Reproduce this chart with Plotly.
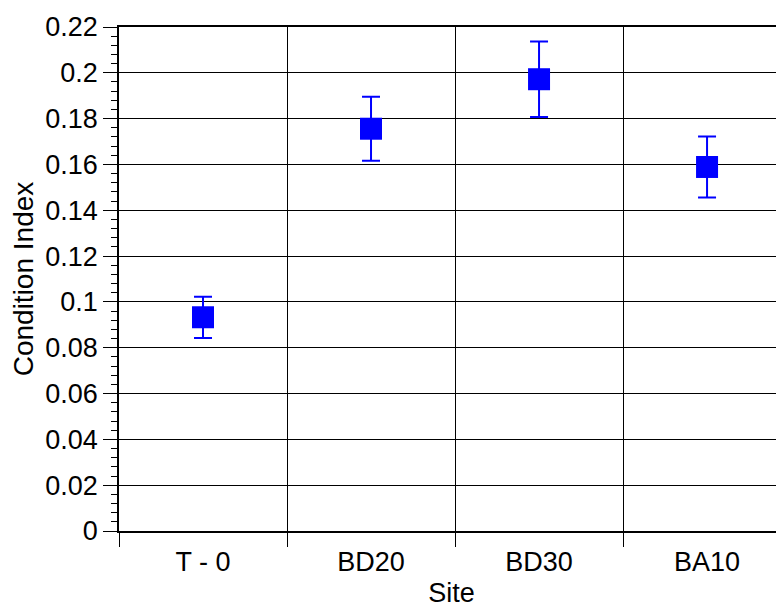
import plotly.graph_objects as go

sites = ["T - 0", "BD20", "BD30", "BA10"]
condition_index = [0.0933, 0.1756, 0.1972, 0.1589]
error = [0.0090, 0.0140, 0.0165, 0.0133]

y_ticks = [0, 0.02, 0.04, 0.06, 0.08, 0.1, 0.12, 0.14, 0.16, 0.18, 0.2, 0.22]
y_tick_text = ["0", "0.02", "0.04", "0.06", "0.08", "0.1", "0.12", "0.14", "0.16", "0.18", "0.2", "0.22"]

font_family = "Liberation Sans, Arial, sans-serif"

fig = go.Figure(
    go.Scatter(
        x=sites,
        y=condition_index,
        mode="markers",
        marker=dict(symbol="square", size=22, color="#0000ff"),
        error_y=dict(type="data", array=error, visible=True, color="#0000ff", thickness=2, width=9),
        showlegend=False,
    )
)

# page body has an 8px default margin, so the figure is sized to end at the window edge
fig.update_layout(
    width=776,
    height=600,
    margin=dict(l=111, r=0, t=19, b=77),
    plot_bgcolor="white",
    paper_bgcolor="white",
    font=dict(family=font_family, size=27, color="black"),
)

fig.update_xaxes(
    type="category",
    range=[-0.5, 3.458],
    tickson="boundaries",
    ticks="outside",
    ticklen=14,
    tickwidth=1,
    tickcolor="black",
    ticklabelstandoff=6,
    showgrid=True,
    gridcolor="black",
    gridwidth=1,
    showline=True,
    linecolor="black",
    linewidth=2,
    mirror=True,
    tickfont=dict(size=27),
    title=dict(text="Site", font=dict(size=27), standoff=9),
)

fig.update_yaxes(
    range=[0, 0.22],
    tickvals=y_ticks,
    ticktext=y_tick_text,
    ticks="outside",
    ticklen=14,
    tickwidth=1,
    tickcolor="black",
    showgrid=True,
    gridcolor="black",
    gridwidth=1,
    showline=True,
    linecolor="black",
    linewidth=1.5,
    zeroline=False,
    tickfont=dict(size=27),
    minor=dict(dtick=0.004, ticks="outside", ticklen=6, tickcolor="black", tickwidth=1, showgrid=False),
    title=dict(text="Condition Index", font=dict(size=28), standoff=4),
)

fig.write_html("out.html")
